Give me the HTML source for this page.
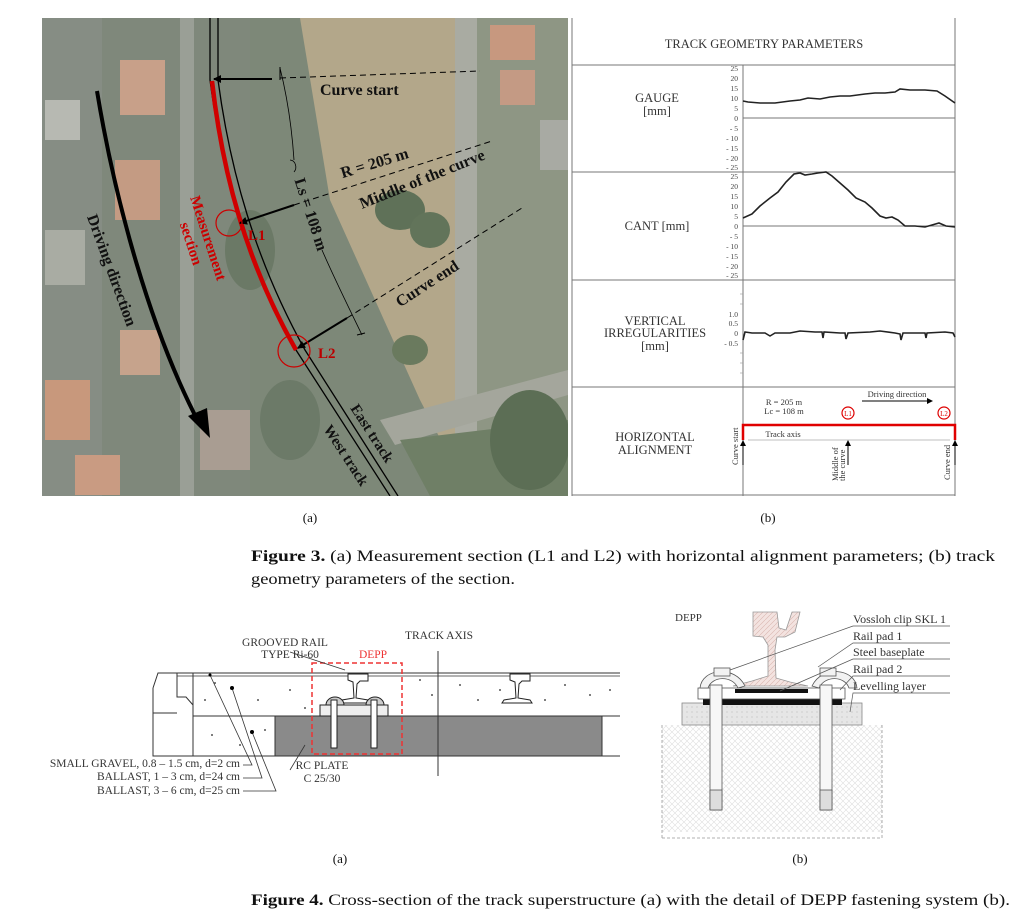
<!DOCTYPE html>
<html><head><meta charset="utf-8"><style>
html,body{margin:0;padding:0;background:#fff;}
svg{display:block;}
</style></head><body>
<svg width="1024" height="922" viewBox="0 0 1024 922" xmlns="http://www.w3.org/2000/svg" font-family="Liberation Serif, serif">
<defs>
<clipPath id="ph"><rect x="42" y="18" width="526" height="478"/></clipPath>
<pattern id="hatch" width="6" height="6" patternUnits="userSpaceOnUse"><path d="M0 6L6 0M0 0L6 6" stroke="#ddd" stroke-width="0.6"/></pattern>
<pattern id="dots" width="5" height="5" patternUnits="userSpaceOnUse"><rect width="5" height="5" fill="#e6e6e6"/><circle cx="2" cy="2" r="0.6" fill="#bbb"/></pattern>
<pattern id="railh" width="5" height="5" patternUnits="userSpaceOnUse"><rect width="5" height="5" fill="#f3e3e0"/><path d="M0 5L5 0" stroke="#d9b5b0" stroke-width="0.6"/></pattern>
<marker id="ah" markerWidth="8" markerHeight="8" refX="7" refY="4" orient="auto" markerUnits="userSpaceOnUse"><path d="M0 0L8 4L0 8z" fill="#000"/></marker>
<marker id="ahs" markerWidth="6" markerHeight="6" refX="5" refY="3" orient="auto" markerUnits="userSpaceOnUse"><path d="M0 0L6 3L0 6z" fill="#000"/></marker>
</defs>

<!-- AERIAL PHOTO -->
<g clip-path="url(#ph)">
<rect x="42" y="18" width="526" height="478" fill="#7f887b"/>
<rect x="250" y="18" width="318" height="478" fill="#b3a78a"/>
<path d="M250 18 L300 18 L330 200 L420 400 L470 496 L250 496z" fill="#7d8878"/>
<rect x="455" y="18" width="22" height="478" fill="#a9aba2"/>
<rect x="477" y="18" width="91" height="478" fill="#8e9684"/>
<path d="M380 420 L568 370 L568 395 L395 445z" fill="#a4a69c"/>
<path d="M400 440 L568 420 L568 496 L430 496z" fill="#6f7f66"/>
<rect x="180" y="18" width="14" height="478" fill="#9a9f96"/>
<rect x="42" y="18" width="60" height="478" fill="#868d84"/>
<rect x="120" y="60" width="45" height="55" fill="#c8a089"/>
<rect x="115" y="160" width="45" height="60" fill="#c49b83"/>
<rect x="120" y="330" width="40" height="45" fill="#c6a38c"/>
<rect x="45" y="380" width="45" height="60" fill="#c8987c"/>
<rect x="75" y="455" width="45" height="40" fill="#c99b82"/>
<rect x="200" y="410" width="50" height="60" fill="#a99d92"/>
<rect x="45" y="100" width="35" height="40" fill="#b7b9b2"/>
<rect x="45" y="230" width="40" height="55" fill="#a9aca3"/>
<rect x="490" y="25" width="45" height="35" fill="#c7987f"/>
<rect x="500" y="70" width="35" height="35" fill="#c49a84"/>
<rect x="540" y="120" width="28" height="50" fill="#a8aaa3"/>
<ellipse cx="400" cy="210" rx="25" ry="20" fill="#5f7158"/>
<ellipse cx="430" cy="230" rx="20" ry="18" fill="#62745a"/>
<ellipse cx="410" cy="350" rx="18" ry="15" fill="#6a7a5e"/>
<ellipse cx="530" cy="440" rx="40" ry="50" fill="#5c6e55"/>
<ellipse cx="250" cy="250" rx="25" ry="40" fill="#6b7966"/>
<ellipse cx="290" cy="420" rx="30" ry="40" fill="#6c7a68"/>
<path d="M210 18 L210 80 C222 170 245 260 296 350 L390 496" fill="none" stroke="#000" stroke-width="1.3"/>
<path d="M218 18 L218 80 C230 170 255 260 305 350 L398 496" fill="none" stroke="#000" stroke-width="1.3"/>
<path d="M212 81 C222 170 245 260 296 350" fill="none" stroke="#d00000" stroke-width="4.5"/>
<line x1="272" y1="79" x2="214" y2="79" stroke="#000" stroke-width="2" marker-end="url(#ah)"/>
<line x1="280" y1="78" x2="480" y2="71" stroke="#000" stroke-width="1" stroke-dasharray="6,4"/>
<line x1="280" y1="67" x2="280" y2="80" stroke="#000" stroke-width="1"/>
<path d="M280 68 C288 100 292 130 294 160" fill="none" stroke="#000" stroke-width="0.8"/>
<path d="M290 160 a6 7 0 0 1 4 12" fill="none" stroke="#000" stroke-width="0.8"/>
<path d="M322 250 C335 280 350 310 362 335" fill="none" stroke="#000" stroke-width="0.8"/>
<line x1="357" y1="335" x2="365" y2="333" stroke="#000" stroke-width="1"/>
<text x="320" y="95" font-size="16" font-weight="bold" fill="#111">Curve start</text>
<line x1="294" y1="205" x2="240" y2="223" stroke="#000" stroke-width="2" marker-end="url(#ah)"/>
<line x1="294" y1="205" x2="492" y2="141" stroke="#000" stroke-width="1" stroke-dasharray="6,4"/>
<text transform="translate(376,168) rotate(-17)" text-anchor="middle" font-size="16" font-weight="bold" fill="#111">R = 205 m</text>
<text transform="translate(424,184) rotate(-22)" text-anchor="middle" font-size="16" font-weight="bold" fill="#111">Middle of the curve</text>
<text transform="translate(306,216) rotate(72)" text-anchor="middle" font-size="16" font-weight="bold" fill="#111">Ls = 108 m</text>
<line x1="347" y1="318" x2="298" y2="348" stroke="#000" stroke-width="2" marker-end="url(#ah)"/>
<line x1="347" y1="318" x2="522" y2="208" stroke="#000" stroke-width="1" stroke-dasharray="6,4"/>
<text transform="translate(430,288) rotate(-33)" text-anchor="middle" font-size="16" font-weight="bold" fill="#111">Curve end</text>
<circle cx="229" cy="223" r="13" fill="none" stroke="#c00" stroke-width="1.2"/>
<circle cx="294" cy="351" r="16" fill="none" stroke="#c00" stroke-width="1.2"/>
<text x="248" y="240" font-size="15" font-weight="bold" fill="#b00">L1</text>
<text x="318" y="358" font-size="15" font-weight="bold" fill="#b00">L2</text>
<text transform="translate(196,242) rotate(72)" text-anchor="middle" font-size="15" font-weight="bold" fill="#c00"><tspan x="0" y="-8">Measurement</tspan><tspan x="0" y="10">section</tspan></text>
<text transform="translate(107,272) rotate(70)" text-anchor="middle" font-size="16" font-weight="bold" fill="#111">Driving direction</text>
<path d="M97 91 C115 200 150 330 200 425" fill="none" stroke="#000" stroke-width="4"/>
<path d="M188 416 L210 438 L207 408z" fill="#000"/>
<text transform="translate(368,436) rotate(57)" text-anchor="middle" font-size="15" font-weight="bold" fill="#111">East track</text>
<text transform="translate(342,458) rotate(57)" text-anchor="middle" font-size="15" font-weight="bold" fill="#111">West track</text>
</g>

<!-- RIGHT PANEL -->
<g stroke="#777" stroke-width="1" fill="none">
<line x1="572" y1="18" x2="572" y2="496"/>
<line x1="955" y1="18" x2="955" y2="496"/>
<line x1="743" y1="65" x2="743" y2="496"/>
<line x1="572" y1="65" x2="955" y2="65"/>
<line x1="572" y1="172" x2="955" y2="172"/>
<line x1="572" y1="280" x2="955" y2="280"/>
<line x1="572" y1="387" x2="955" y2="387"/>
<line x1="572" y1="495" x2="955" y2="495"/>
<line x1="743" y1="118" x2="955" y2="118"/>
<line x1="743" y1="226" x2="955" y2="226"/>
</g>
<g font-size="12.5" fill="#333" text-anchor="middle">
<text x="764" y="48">TRACK GEOMETRY PARAMETERS</text>
<text x="657" y="102">GAUGE</text><text x="657" y="115">[mm]</text>
<text x="657" y="230">CANT [mm]</text>
<text x="655" y="325">VERTICAL</text><text x="655" y="337">IRREGULARITIES</text><text x="655" y="350">[mm]</text>
<text x="655" y="441">HORIZONTAL</text><text x="655" y="454">ALIGNMENT</text>
</g>
<g font-size="7.5" fill="#444" text-anchor="end">
<text x="738" y="71">25</text><text x="738" y="81">20</text><text x="738" y="91">15</text><text x="738" y="101">10</text><text x="738" y="111">5</text><text x="738" y="121">0</text><text x="738" y="131">- 5</text><text x="738" y="141">- 10</text><text x="738" y="151">- 15</text><text x="738" y="161">- 20</text><text x="738" y="170">- 25</text>
<text x="738" y="179">25</text><text x="738" y="189">20</text><text x="738" y="199">15</text><text x="738" y="209">10</text><text x="738" y="219">5</text><text x="738" y="229">0</text><text x="738" y="239">- 5</text><text x="738" y="249">- 10</text><text x="738" y="259">- 15</text><text x="738" y="269">- 20</text><text x="738" y="278">- 25</text>
<text x="738" y="317">1.0</text><text x="738" y="326">0.5</text><text x="738" y="336">0</text><text x="738" y="346">- 0.5</text>
</g>
<g stroke="#999" stroke-width="0.6">
<line x1="740" y1="294" x2="743" y2="294"/><line x1="740" y1="304" x2="743" y2="304"/><line x1="740" y1="353" x2="743" y2="353"/><line x1="740" y1="363" x2="743" y2="363"/><line x1="740" y1="373" x2="743" y2="373"/>
</g>
<g fill="none" stroke="#222" stroke-width="1.6">
<polyline points="743,101 748,102 760,103 775,103 790,101 800,100 808,98 820,99 830,97 840,96 850,96 865,94 875,93 885,93 895,92 900,89 910,90 925,90 937,91 945,96 955,103"/>
<polyline points="743,218 752,214 760,206 770,198 778,192 786,182 794,174 800,173 805,175 812,174 818,173 826,172 832,176 840,183 848,190 856,198 865,202 872,208 880,216 886,218 892,217 898,220 905,226 915,226 925,227 932,225 939,223 946,226 955,227"/>
<polyline points="743,340 745,332 752,333 765,333 770,336 775,333 790,333 800,331 815,332 822,332 823,338 824,332 840,333 845,333 846,339 848,333 870,332 880,331 895,333 900,334 901,340 903,333 925,333 926,338 927,333 945,332 953,333 955,337"/>
</g>
<path d="M743 440 L743 425 L955 425 L955 440" fill="none" stroke="#e00000" stroke-width="2.5"/>
<line x1="748" y1="440" x2="950" y2="440" stroke="#aaa" stroke-width="0.8"/>
<g stroke="#000" stroke-width="1">
<line x1="743" y1="465" x2="743" y2="441" marker-end="url(#ahs)"/>
<line x1="848" y1="465" x2="848" y2="441" marker-end="url(#ahs)"/>
<line x1="955" y1="465" x2="955" y2="441" marker-end="url(#ahs)"/>
<line x1="862" y1="401" x2="932" y2="401" marker-end="url(#ahs)"/>
</g>
<g font-size="8.5" fill="#333">
<text x="784" y="405" text-anchor="middle">R = 205 m</text>
<text x="784" y="414" text-anchor="middle">Lc = 108 m</text>
<text x="897" y="397" text-anchor="middle">Driving direction</text>
<text x="783" y="437" text-anchor="middle">Track axis</text>
<text transform="translate(738,465) rotate(-90)">Curve start</text>
<text transform="translate(838,481) rotate(-90)">Middle of</text>
<text transform="translate(845,481) rotate(-90)">the curve</text>
<text transform="translate(950,480) rotate(-90)">Curve end</text>
</g>
<circle cx="848" cy="413" r="6" fill="#fff" stroke="#d00" stroke-width="1.2"/>
<circle cx="944" cy="413" r="6" fill="#fff" stroke="#d00" stroke-width="1.2"/>
<text x="848" y="416" font-size="7" fill="#d00" text-anchor="middle">L1</text>
<text x="944" y="416" font-size="7" fill="#d00" text-anchor="middle">L2</text>

<!-- FIG3 CAPTIONS -->
<text x="310" y="522" font-size="13" text-anchor="middle" fill="#111">(a)</text>
<text x="768" y="522" font-size="13" text-anchor="middle" fill="#111">(b)</text>
<text x="251" y="561" font-size="15.5" fill="#111" textLength="744" lengthAdjust="spacingAndGlyphs"><tspan font-weight="bold">Figure 3.</tspan> (a) Measurement section (L1 and L2) with horizontal alignment parameters; (b) track</text>
<text x="251" y="584" font-size="15.5" fill="#111" textLength="264" lengthAdjust="spacingAndGlyphs">geometry parameters of the section.</text>

<!-- FIG4a CROSS SECTION -->
<rect x="275" y="716" width="327" height="40" fill="#8a8a8a"/>
<g fill="none" stroke="#333" stroke-width="1">
<path d="M153 688 L158 673 L620 673"/>
<line x1="177" y1="676" x2="620" y2="676" stroke-width="0.7"/>
<path d="M153 688 L153 756 L620 756"/>
<path d="M177 673 L177 697 L186 697 L193 705"/>
<line x1="153" y1="713" x2="177" y2="713"/>
<line x1="193" y1="673" x2="193" y2="756"/>
<line x1="193" y1="716" x2="620" y2="716"/>
<line x1="602" y1="716" x2="602" y2="756"/>
<line x1="275" y1="716" x2="275" y2="756"/>
</g>
<g fill="#555">
<circle cx="215" cy="683" r="1"/><circle cx="232" cy="688" r="1"/><circle cx="258" cy="700" r="1"/><circle cx="290" cy="690" r="1"/><circle cx="305" cy="708" r="1"/><circle cx="420" cy="680" r="1"/><circle cx="432" cy="695" r="1"/><circle cx="460" cy="685" r="1"/><circle cx="478" cy="700" r="1"/><circle cx="500" cy="690" r="1"/><circle cx="545" cy="700" r="1"/><circle cx="565" cy="685" r="1"/><circle cx="590" cy="695" r="1"/><circle cx="610" cy="690" r="1"/><circle cx="212" cy="735" r="1"/><circle cx="240" cy="745" r="1"/><circle cx="265" cy="730" r="1"/><circle cx="205" cy="700" r="1"/>
</g>
<g fill="#fff" stroke="#222" stroke-width="1">
<path d="M348 674 L368 674 L368 681 L360 681 L357 684 L356 698 L368 700 L370 703 L340 703 L342 700 L354 698 L353 682 L348 680z"/>
<path d="M510 674 L530 674 L530 681 L522 681 L519 684 L518 698 L530 700 L532 703 L502 703 L504 700 L516 698 L515 682 L510 680z"/>
<rect x="320" y="705" width="68" height="11" fill="#eee"/>
<path d="M326 705 a9 8 0 0 1 18 0z" fill="#ccc"/>
<path d="M366 705 a9 8 0 0 1 18 0z" fill="#ccc"/>
<rect x="331" y="700" width="6" height="48" fill="#fff"/>
<rect x="371" y="700" width="6" height="48" fill="#fff"/>
</g>
<rect x="312" y="663" width="90" height="91" fill="none" stroke="#e33" stroke-width="1.5" stroke-dasharray="5,3"/>
<line x1="438" y1="651" x2="438" y2="776" stroke="#333" stroke-width="1"/>
<g font-size="11.5" fill="#333" text-anchor="middle">
<text x="439" y="639">TRACK AXIS</text>
<text x="285" y="646">GROOVED RAIL</text>
<text x="290" y="658">TYPE Ri-60</text>
<text x="373" y="658" fill="#e33">DEPP</text>
<text x="322" y="769">RC PLATE</text>
<text x="322" y="782">C 25/30</text>
</g>
<g font-size="11.5" fill="#333" text-anchor="end">
<text x="240" y="767">SMALL GRAVEL, 0.8 – 1.5 cm, d=2 cm</text>
<text x="240" y="780">BALLAST, 1 – 3 cm, d=24 cm</text>
<text x="240" y="794">BALLAST, 3 – 6 cm, d=25 cm</text>
</g>
<g fill="none" stroke="#333" stroke-width="0.8">
<path d="M243 765 L252 765 L210 675"/>
<path d="M243 778 L262 778 L232 688"/>
<path d="M243 791 L276 791 L252 732"/>
<path d="M290 652 L345 670"/>
<path d="M290 770 L305 745"/>
</g>
<circle cx="210" cy="675" r="1.5" fill="#000"/><circle cx="232" cy="688" r="2" fill="#000"/><circle cx="252" cy="732" r="2" fill="#000"/>

<!-- FIG4b DEPP DETAIL -->
<rect x="662" y="725" width="220" height="107" fill="url(#hatch)"/>
<path d="M662 725 L662 838 M882 725 L882 838 M662 838 L882 838" fill="none" stroke="#999" stroke-width="0.8" stroke-dasharray="3,2"/>
<rect x="682" y="703" width="180" height="22" fill="url(#dots)" stroke="#888" stroke-width="0.8"/>
<rect x="703" y="699" width="134" height="6" fill="#111"/>
<rect x="830" y="699" width="12" height="6" fill="#111"/>
<rect x="698" y="688" width="147" height="11" fill="#fff" stroke="#555" stroke-width="0.8"/>
<rect x="735" y="689" width="73" height="4" fill="#111"/>
<path d="M753 612 L777 612 L779 628 L786 630 L792 612 L800 612 L795 632 L785 637 L777 637 L775 650 L776 678 L790 682 L808 686 L733 686 L752 681 L768 676 L768 645 L763 637 L753 636z" fill="url(#railh)" stroke="#999" stroke-width="0.8"/>
<g fill="#f2f2f2" stroke="#555" stroke-width="0.8">
<path d="M700 688 C702 668 735 665 745 686 L738 688 C732 675 712 676 708 688z"/>
<path d="M812 686 C822 665 855 668 857 688 L849 688 C845 676 825 675 819 688z"/>
<rect x="714" y="668" width="16" height="8"/>
<rect x="820" y="668" width="16" height="8"/>
<rect x="710" y="685" width="12" height="125" fill="#f7f7f7"/>
<rect x="820" y="685" width="12" height="125" fill="#f7f7f7"/>
<rect x="710" y="790" width="12" height="20" fill="#ddd"/>
<rect x="820" y="790" width="12" height="20" fill="#ddd"/>
</g>
<text x="675" y="621" font-size="11" fill="#333">DEPP</text>
<g font-size="12" fill="#333">
<text x="853" y="623">Vossloh clip SKL 1</text>
<text x="853" y="640">Rail pad 1</text>
<text x="853" y="656">Steel baseplate</text>
<text x="853" y="673">Rail pad 2</text>
<text x="853" y="690">Levelling layer</text>
</g>
<g fill="none" stroke="#555" stroke-width="0.7">
<path d="M950 626 L853 626 L730 670"/>
<path d="M950 643 L853 643 L818 667"/>
<path d="M950 659 L853 659 L780 691"/>
<path d="M950 676 L853 676 L840 690"/>
<path d="M950 693 L853 693 L850 712"/>
</g>

<!-- FIG4 CAPTIONS -->
<text x="340" y="863" font-size="13" text-anchor="middle" fill="#111">(a)</text>
<text x="800" y="863" font-size="13" text-anchor="middle" fill="#111">(b)</text>
<text x="251" y="905" font-size="15.5" fill="#111" textLength="759" lengthAdjust="spacingAndGlyphs"><tspan font-weight="bold">Figure 4.</tspan> Cross-section of the track superstructure (a) with the detail of DEPP fastening system (b).</text>
</svg>
</body></html>
